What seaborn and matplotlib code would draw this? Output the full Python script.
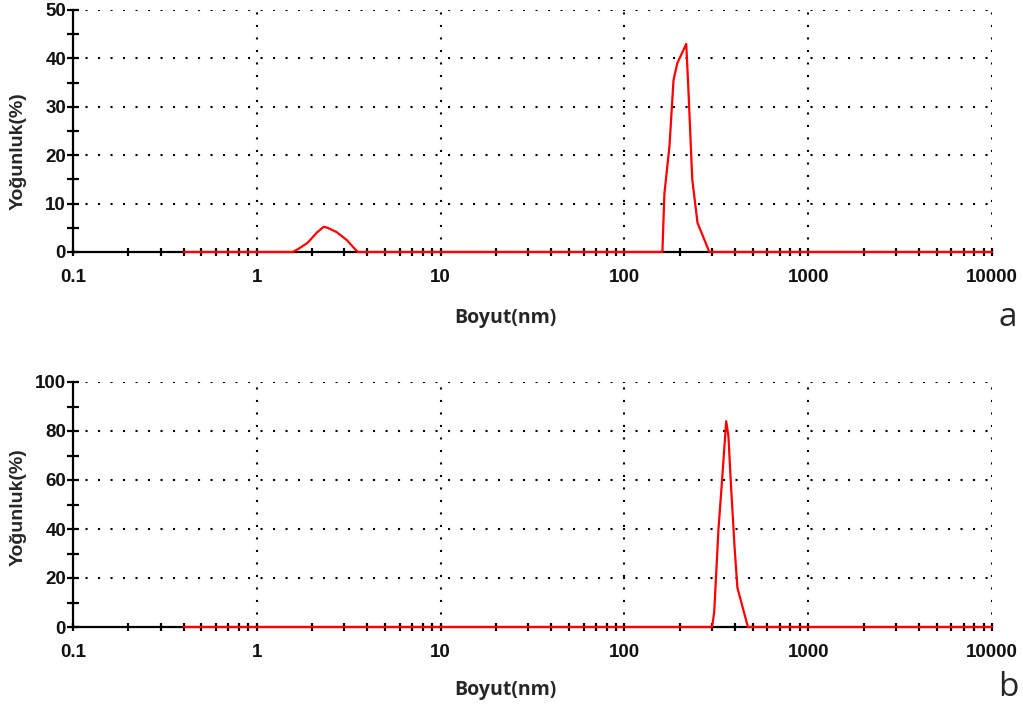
import numpy as np
import pandas as pd
import matplotlib
matplotlib.use("Agg")
import matplotlib.pyplot as plt
from matplotlib.ticker import FixedLocator, NullFormatter, LogLocator
import seaborn as sns

# ---- data (size in nm, intensity in %) ----
size_a = [0.4, 1.50, 1.57, 1.71, 1.89, 2.12, 2.31, 2.43, 2.72, 3.08, 3.54,
          100.0, 161.0, 165.0, 176.0, 185.0, 194.0, 217.0, 223.0, 234.0, 250.0, 290.0, 10000.0]
int_a = [0.0, 0.0, 0.0, 0.8, 1.9, 4.0, 5.2, 5.0, 4.1, 2.5, 0.0,
         0.0, 0.0, 12.0, 22.0, 35.5, 39.0, 43.0, 33.5, 15.0, 6.0, 0.0, 0.0]

size_b = [0.4, 300.0, 308.0, 325.0, 340.0, 358.0, 368.0, 380.0, 398.0, 412.0, 440.0, 470.0, 10000.0]
int_b = [0.0, 0.0, 6.0, 40.0, 60.0, 84.0, 78.0, 58.0, 32.0, 16.0, 8.0, 0.0, 0.0]

xlabel = "Boyut(nm)"
ylabel = "Yoğunluk(%)"
xticks = [0.1, 1, 10, 100, 1000, 10000]
xticklabels = ["0.1", "1", "10", "100", "1000", "10000"]
yticks_a = [0, 10, 20, 30, 40, 50]
yticks_b = [0, 20, 40, 60, 80, 100]
panel_labels = ["a", "b"]

sns.set_style("white")
plt.rcParams["font.family"] = ["Liberation Sans", "DejaVu Sans"]

fig = plt.figure(figsize=(10.23, 7.13), dpi=100)
W, H = 1023, 713
axes_px = [(73, 10, 992, 252), (73, 382, 992, 627)]
datasets = [(size_a, int_a, yticks_a), (size_b, int_b, yticks_b)]
xlab_y = [318, 690]
ylab_y = [151, 507]
panel_pos = [(1008, 318), (1008, 687)]

for i, ((l, t, r, b), (xs, ys, yt)) in enumerate(zip(axes_px, datasets)):
    ax = fig.add_axes([l / W, 1 - b / H, (r - l) / W, (b - t) / H])
    df = pd.DataFrame({"x": xs, "y": ys})
    sns.lineplot(data=df, x="x", y="y", ax=ax, color="#ff0000", lw=1.6,
                 estimator=None, sort=False, zorder=5, clip_on=False)
    ax.set_xscale("log")
    ax.set_xlim(0.1, 10000)
    ax.set_ylim(yt[0], yt[-1])
    for s in ["top", "right"]:
        ax.spines[s].set_visible(False)
    for s in ["left", "bottom"]:
        ax.spines[s].set_color("black")
        ax.spines[s].set_linewidth(1.6)
        ax.spines[s].set_zorder(3)
    ax.xaxis.set_major_locator(FixedLocator(xticks))
    ax.set_xticklabels(xticklabels)
    ax.xaxis.set_minor_locator(LogLocator(base=10, subs=np.arange(2, 10)))
    ax.xaxis.set_minor_formatter(NullFormatter())
    ax.set_yticks(yt)
    step = yt[1] - yt[0]
    ax.yaxis.set_minor_locator(FixedLocator([v + step / 2 for v in yt[:-1]]))
    ax.tick_params(axis="both", which="both", direction="inout", color="black",
                   width=1.6, labelsize=13.5, labelcolor="#111111",
                   bottom=True, left=True, top=False, right=False)
    ax.tick_params(axis="y", which="both", length=8, pad=1)
    ax.tick_params(axis="x", which="both", length=6, pad=9)
    for lab in ax.get_xticklabels() + ax.get_yticklabels():
        lab.set_fontweight("bold")
    # dotted major grid
    for xv in xticks[1:]:
        ax.axvline(xv, color="black", lw=1.5, ls=(0, (1, 5)), zorder=1)
    for yv in yt[1:]:
        ax.axhline(yv, color="black", lw=1.5, ls=(0, (1, 5)), zorder=1)
    ax.set_xlabel(xlabel, fontsize=14, fontweight="bold", family=["Open Sans", "DejaVu Sans"])
    ax.set_ylabel(ylabel, fontsize=14, fontweight="bold")
    ax.xaxis.set_label_coords(0.47, -(xlab_y[i] - b) / (b - t))
    ax.yaxis.set_label_coords(-55 / (r - l), (b - ylab_y[i]) / (b - t))
    ax.xaxis.label.set_va("center")
    ax.yaxis.label.set_va("center")
    px, py = panel_pos[i]
    fig.text(px / W, 1 - py / H, panel_labels[i], fontsize=24,
             family=["Open Sans", "DejaVu Sans"], ha="center", va="center")

fig.savefig("out.png", dpi=100)
